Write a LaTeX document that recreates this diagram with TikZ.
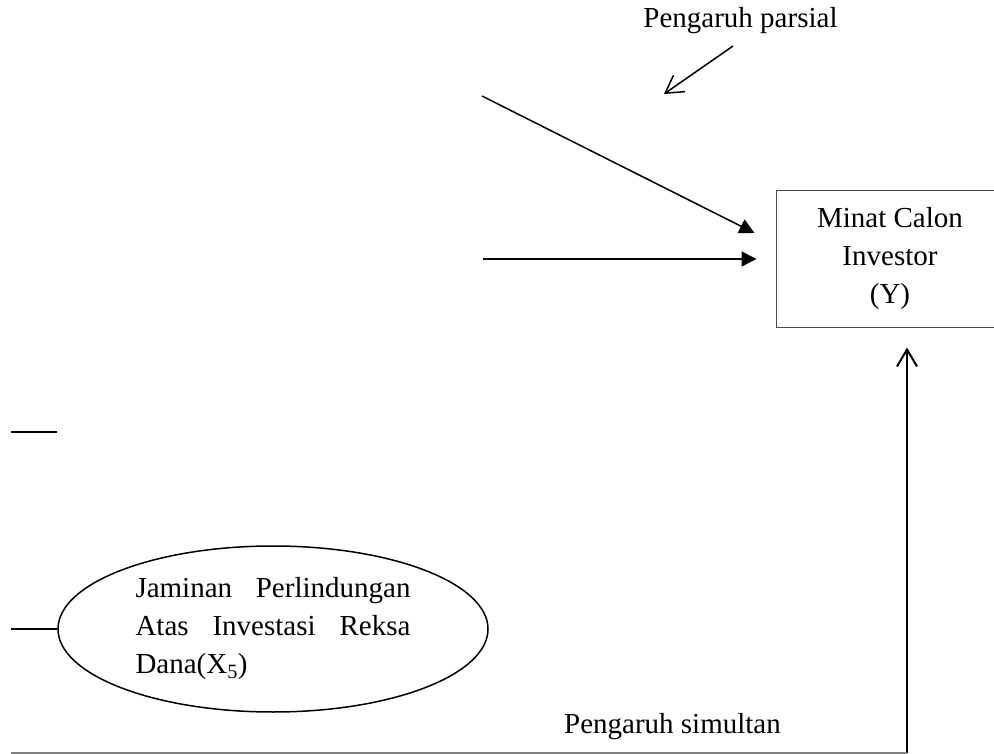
\documentclass[tikz,border=0pt]{standalone}
\usepackage{fontspec}
\setmainfont{Liberation Serif}
\usepackage{tikz}
\usetikzlibrary{positioning}
\usetikzlibrary{shapes,arrows,calc,arrows.meta}

\tikzset{
  teks/.style={font=\fontsize{29}{38}\selectfont, inner sep=0pt},
  panah/.style={line width=1.5pt, -{Triangle[length=15pt,width=15pt]}},
  barb/.style={line width=1.5pt, -{Straight Barb[length=17pt,width=20pt]}},
}

\begin{document}
\begin{tikzpicture}[x=1pt, y=1pt]
    \useasboundingbox (0,0) rectangle (994,-754);
    % Nodes
    \node [teks, anchor=base] (parsial) at (740.5,-28) {Pengaruh parsial};
    \node [teks, draw=black!70, line width=1pt, rectangle, minimum width=228pt, minimum height=136pt, align=center] (minat) at (890,-259) {Minat Calon\\Investor\\(Y)};
    \node [teks, draw, ellipse, line width=1.5pt, minimum width=430pt, minimum height=166pt, align=left] (jaminan) at (273,-629)
        {\makebox[275pt][s]{Jaminan Perlindungan}\\\makebox[275pt][s]{Atas Investasi Reksa}\\\makebox[275pt][l]{Dana(X\textsubscript{5})}};
    \node [teks, anchor=base] (simultan) at (672.5,-733) {Pengaruh simultan};

    % Free ends
    \coordinate (p1) at (733,-46);
    \coordinate (p2) at (664,-94);
    \coordinate (a1) at (482,-96);
    \coordinate (a2) at (483,-259);
    \coordinate (g1) at (11,-432);
    \coordinate (g2) at (57,-432);
    \coordinate (g3) at (11,-629);
    \coordinate (s0) at (11,-753);
    \coordinate (s1) at (907,-753);

    % Arrows
    \draw [barb] (p1) -- (p2);
    \draw [panah] (a1) -- ($(minat.west)+(-21,26)$);
    \draw [panah] (a2) -- ([xshift=-19pt]minat.west);
    \draw [barb, line width=2pt] (s1) -- ([xshift=17pt,yshift=-20pt]minat.south);
    \draw [line width=1.5pt] (g1) -- (g2);
    \draw [line width=1.5pt] (g3) -- (jaminan.west);
    \draw [gray, line width=1.5pt] (s0) -- (s1);
\end{tikzpicture}
\end{document}
